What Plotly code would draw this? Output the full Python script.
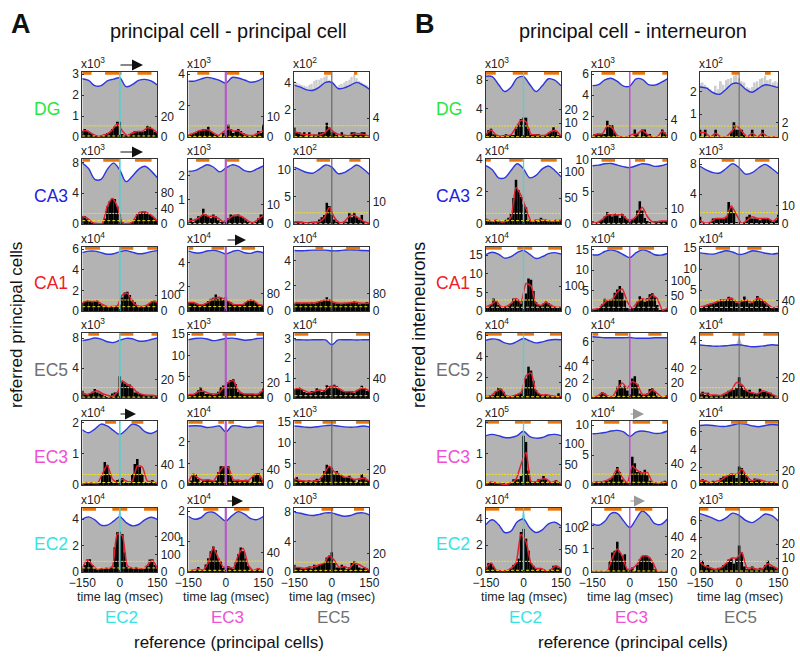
"""Cross-correlograms between hippocampal and entorhinal regions, panels A and B."""

import plotly.graph_objects as go

FONT = "Liberation Sans"

ROWS = ["DG", "CA3", "CA1", "EC5", "EC3", "EC2"]
COLS = ["EC2", "EC3", "EC5"]

# lags for each data family (msec)
BAR_LAGS = list(range(-150, 151, 10))
RED_LAGS = list(range(-150, 151, 20))
BLUE_LAGS = list(range(-150, 151, 25))
SPIKE_LAGS = [-12, 0, 12]

# ---- panel A: bars/red on the right axis, blue on the left axis, orange in msec
A_DG_EC2_BARS = [6,8,6,5,3, 1,1,1,2,3, 4,5,8,11,15, 15, 3,1,1,3, 4,6,5,6,5, 6,11,10,8,5, 4]
A_DG_EC2_RED = [6,6,3,1,1.5,3,7,13,6,1.5,4,5.5,5.5,9,8,4]
A_DG_EC2_BLUE = [2.78,2.7,2.45,2.45,2.68,2.76,2.82,2.4,2.5,2.7,2.75,2.68,2.48]
A_DG_EC2_ORANGE = [(-150,-113),(-59,7),(71,127)]
A_DG_EC3_BARS = [1,1,2,2,3, 3,4,4,5,3, 2,1,0.5,0,2, 3, 6,4,2,3, 4,3,2,1,1, 1,0.5,1,3,2, 6]
A_DG_EC3_RED = [1,1.7,3,3.5,3.5,2,0.8,2.5,4,3,3,1.5,0.8,0.8,2,3]
A_DG_EC3_BLUE = [3.55,3.55,3.68,3.79,3.72,3.6,3.42,3.78,3.75,3.62,3.48,3.55,3.75]
A_DG_EC3_ORANGE = [(-114,-66),(3,54),(137,150)]
A_DG_EC5_BARS = [2,1,1,0.5,1, 0,1,0,0.5,0.5, 1,1,1,3,2, 1, 1,0.5,0,1, 0.5,0,0,1,1, 0.5,0.5,1,1,0, 0]
A_DG_EC5_RED = [1.2,0.8,0.5,0.5,0.4,0.4,0.8,1.8,1.0,0.5,0.3,0.3,0.7,0.7,0.5,0.2]
A_DG_EC5_BLUE = [3.8,3.65,3.45,3.42,3.65,4.0,4.0,3.55,3.6,3.8,4.0,3.8,3.5]
A_DG_EC5_ORANGE = [(-31,-3),(89,102)]
A_DG_EC5_NOISE = [4.1,4.0,3.9,3.8,3.75, 3.7,3.8,3.9,4.1,4.2, 4.2,4.3,4.4,4.5,4.2, 4.1, 3.9,3.7,3.8,3.9, 4.0,4.1,4.2,4.4,4.6, 4.3,4.1,4.0,3.9,3.8, 3.7]

A_CA3_EC2_BARS = [20,20,12,6,2, 1,1,0,2,14, 45,58,66,64,45, 25, 3,1,1,1, 3,12,26,30,31, 32,28,25,20,15, 8]
A_CA3_EC2_RED = [20,15,4,1,2,45,65,45,3,1,5,25,31,29,20,8]
A_CA3_EC2_BLUE = [7.9,7.2,5.8,5.8,7.1,7.9,7.0,5.5,6.2,7.1,7.5,6.9,6.0]
A_CA3_EC2_ORANGE = [(-150,-119),(-66,-2),(61,127)]
A_CA3_EC3_BARS = [1,3,1,2,4, 4,8,5,4,3, 5,4,2,1,1, 2, 3,5,4,4, 5,4,3,2,1, 0.5,0.5,1,3,5, 5]
A_CA3_EC3_RED = [1.5,2,3,5,4,4,3,1.2,2.5,4.5,4.5,3.5,1.5,0.7,2.5,4.5]
A_CA3_EC3_BLUE = [2.17,2.2,2.32,2.44,2.35,2.15,2.3,2.44,2.38,2.2,2.16,2.27,2.4]
A_CA3_EC3_ORANGE = [(-119,-66),(3,54)]
A_CA3_EC5_BARS = [1,1,1,1,0.5, 0,0.5,1,1,1, 2,3,4,9.5,8, 4, 2,1,0.5,0, 1,1,5,3,5, 3,2,4,1,0.5, 0.3]
A_CA3_EC5_RED = [1,0.9,0.6,0.3,0.7,1,2.8,7.5,3,0.7,1,3.5,3.8,2.5,1,0.3]
A_CA3_EC5_BLUE = [10.5,10,9.5,9.4,10.1,10.9,10.5,9.3,9.5,10.2,10.9,10.2,9.2]
A_CA3_EC5_ORANGE = [(-61,-7),(70,115)]

A_CA1_EC2_BARS = [50,60,65,62,55, 60,65,45,35,30, 25,28,28,30,30, 40, 85,115,120,100, 70,55,35,30,28, 28,35,50,62,65, 55]
A_CA1_EC2_RED = [50,62,60,60,42,28,28,32,100,110,60,33,28,38,60,55]
A_CA1_EC2_BLUE = [5.65,5.8,5.8,5.65,5.5,5.55,5.75,5.85,5.7,5.55,5.6,5.75,5.85]
A_CA1_EC2_ORANGE = [(-139,-79),(-2,54),(110,150)]
A_CA1_EC3_BARS = [40,40,38,35,30, 28,28,35,45,55, 60,75,55,60,50, 62, 45,40,30,28, 30,28,30,38,48, 52,50,40,32,28, 25]
A_CA1_EC3_RED = [38,38,30,28,40,55,62,56,45,30,28,30,47,48,30,25]
A_CA1_EC3_BLUE = [5.0,4.85,4.85,5.0,5.05,4.95,4.75,4.95,5.05,4.85,4.8,4.95,4.85]
A_CA1_EC3_ORANGE = [(-150,-130),(-57,-7),(63,117)]
A_CA1_EC5_BARS = [35,40,38,35,38, 38,35,40,35,38, 42,45,50,65,55, 45, 40,35,38,32, 35,38,40,38,45, 42,32,35,38,42, 38]
A_CA1_EC5_RED = [36,37,38,37,38,44,52,50,40,36,37,38,42,38,36,38]
A_CA1_EC5_BLUE = [4.82,4.8,4.82,4.85,4.85,4.85,4.8,4.8,4.85,4.88,4.85,4.82,4.8]
A_CA1_EC5_ORANGE = [(-65,-34),(57,113)]

A_EC5_EC2_BARS = [8,4,3,5,7, 10,6,5,4,2, 1,2,5,6,6, 24, 18,16,14,15, 12,6,7,5,4, 3,3,2,3,3, 2]
A_EC5_EC2_RED = [6,4,6,8,5,3,2,6,19,15,12,6,4,3,3,2]
A_EC5_EC2_BLUE = [7.65,7.8,8.0,7.85,7.5,7.4,7.7,7.95,7.9,7.6,7.6,7.8,8.0]
A_EC5_EC2_ORANGE = [(-126,-83),(-2,54),(127,150)]
A_EC5_EC3_BARS = [4,5,4,6,10, 14,8,5,5,5, 4,5,8,14,16, 12, 20,23,24,18, 8,6,5,5,5, 5,5,4,5,8, 12]
A_EC5_EC3_RED = [4.5,4.5,8,9,6,5,6,13,20,22,10,5.5,5,5,5,10]
A_EC5_EC3_BLUE = [13.7,14,14.1,13.9,13.5,13.7,14,14.1,13.9,13.6,13.7,14,14.1]
A_EC5_EC3_ORANGE = [(-137,-90),(-13,41),(123,150)]
A_EC5_EC5_BARS = [18,20,22,16,12, 10,12,14,14,20, 15,12,16,26,24, 22, 27,24,18,14, 12,14,12,14,10, 14,18,25,20,14, 14]
A_EC5_EC5_RED = [18,20,15,11,13,17,14,23,24,19,13,13,12,18,20,14]
A_EC5_EC5_BLUE = [2.93,2.93,2.92,2.93,2.93,2.92,2.68,2.92,2.93,2.93,2.92,2.93,2.93]
A_EC5_EC5_ORANGE = [(-150,-94),(97,150)]

A_EC3_EC2_BARS = [2,3,4,4,4, 3,3,3,18,46, 40,22,6,3,10, 12, 14,6,3,4, 22,42,52,36,22, 6,3,4,10,5, 3]
A_EC3_EC2_RED = [2,4,4,3,22,40,12,5,12,7,8,38,36,8,7,3]
A_EC3_EC2_BLUE = [1.78,1.68,1.8,1.96,1.9,1.75,1.63,1.78,1.96,1.9,1.72,1.66,1.75]
A_EC3_EC2_ORANGE = [(-59,-15),(47,94)]
A_EC3_EC3_BARS = [8,12,30,28,16, 8,14,14,14,12, 10,12,34,50,50, 50, 50,25,12,12, 14,10,12,14,10, 8,22,30,32,20, 6]
A_EC3_EC3_RED = [9,28,18,12,14,11,30,48,46,14,12,11,12,24,30,7]
A_EC3_EC3_BLUE = [2.72,2.73,2.72,2.65,2.68,2.72,2.45,2.72,2.72,2.66,2.66,2.72,2.7]
A_EC3_EC3_ORANGE = [(-150,-93),(-30,-7),(10,33),(123,150)]
A_EC3_EC5_BARS = [8,10,6,6,5, 4,6,5,6,8, 5,10,18,26,24, 22, 14,18,14,12, 10,10,12,8,6, 4,7,14,10,6, 5]
A_EC3_EC5_RED = [8,6,5,5,5,7,15,24,17,14,10,10,7,8,9,5]
A_EC3_EC5_BLUE = [14,13.9,13.7,13.7,13.9,14.1,14.2,14,13.8,13.7,13.8,14,13.8]
A_EC3_EC5_ORANGE = [(-150,-121),(-37,17),(97,150)]

A_EC2_EC2_BARS = [22,40,70,72,40, 20,14,20,20,18, 22,22,30,140,225, 228, 215,110,30,22, 22,28,24,20,18, 20,35,70,72,40, 20]
A_EC2_EC2_RED = [22,68,40,14,20,22,30,215,205,35,22,24,18,38,68,20]
A_EC2_EC2_BLUE = [4.0,4.18,3.95,3.55,3.55,3.85,4.2,3.75,3.5,3.6,3.95,4.15,3.98]
A_EC2_EC2_ORANGE = [(-150,-95),(-30,30),(97,150)]
A_EC2_EC2_SPIKE = [3.6,4.85,3.6]
A_EC2_EC3_BARS = [2,2,4,4,10, 3,3,15,28,42, 52,44,28,22,8, 8, 12,8,6,20, 36,50,42,28,12, 5,3,6,8,3, 2]
A_EC2_EC3_RED = [2,4,6,4,20,50,28,10,10,8,34,48,14,3,7,2]
A_EC2_EC3_BLUE = [1.83,1.73,1.78,1.95,1.96,1.82,1.67,1.85,1.98,1.9,1.75,1.72,1.82]
A_EC2_EC3_ORANGE = [(-90,-30),(33,94)]
A_EC2_EC5_BARS = [8,5,5,4,4, 5,6,4,8,6, 8,9,10,16,18, 22, 10,5,5,8, 6,3,5,10,12, 8,5,4,5,4, 2]
A_EC2_EC5_RED = [5,5,4,5,6,8,10,18,13,5,6,4,10,8,5,2]
A_EC2_EC5_BLUE = [7.95,7.8,7.6,7.5,7.65,7.85,7.85,7.6,7.4,7.5,7.8,7.85,7.6]
A_EC2_EC5_ORANGE = [(-41,6),(89,129)]

# ---- panel B
B_DG_EC2_BARS = [2,5,6,2,1, 0.5,0.5,1,2,1, 1,1,6,9,13, 14, 14,6,1,1, 2,2,1,1,1, 3,4,7,4,1, 0.5]
B_DG_EC2_RED = [2,5,1.5,0.5,1,1.5,7,12,11,2,1.5,1,1.5,4,4.5,0.5]
B_DG_EC2_BLUE = [8.55,8.5,7.4,6.4,7.0,8.3,8.5,7.4,6.4,7.2,8.2,8.0,7.2]
B_DG_EC2_ORANGE = [(-150,-111),(-43,17),(82,142)]
B_DG_EC3_BARS = [0,0.7,0.7,0.7,0.7, 0.7,3.7,2.7,2.7,1, 0,0,0,0,0, 0, 0,1.7,0.7,0,1.7, 1.7,0.7,0.7,0,0, 0,0,1.7,1,0]
B_DG_EC3_RED = [0.2,0.7,0.7,2.5,2,0.3,0,0,0.6,0.7,1.5,0.6,0,0,1.3,0.2]
B_DG_EC3_BLUE = [4.9,5.0,5.45,5.6,5.3,4.85,4.85,5.55,5.5,5.0,4.95,5.2,5.55]
B_DG_EC3_ORANGE = [(-113,-59),(10,61),(130,150)]
B_DG_EC5_BARS = [1,0,1,0,0, 0,1,0,0,0, 0,0,0.7,2,1, 1, 1,0.3,0,0, 1,0,0,0,1, 0,0,0,0,0, 0]
B_DG_EC5_RED = [0.6,0.6,0,0.5,0,0,0.7,1.5,0.8,0,0.5,0,0.5,0,0,0]
B_DG_EC5_BLUE = [2.2,2.15,1.95,1.88,2.1,2.35,2.35,2.1,1.97,2.15,2.3,2.25,2.17]
B_DG_EC5_ORANGE = [(-29,-1),(99,121)]
B_DG_EC5_NOISE = [2.35,2.4,2.3,2.2,2.1, 2.0,2.25,2.1,2.45,2.3, 2.5,2.55,2.6,2.7,2.75, 2.6, 2.45,2.4,2.2,2.15, 2.2,2.4,2.45,2.55,2.6, 2.7,2.5,2.55,2.4,2.45, 2.4]

B_CA3_EC2_BARS = [10,8,4,3,8, 3,4,3,8,12, 20,50,85,65,52, 38, 32,8,5,4, 8,4,12,6,8, 6,5,4,8,5, 8]
B_CA3_EC2_RED = [9,5,7,4,5,13,70,55,30,6,7,8,7,5,6,7]
B_CA3_EC2_BLUE = [3.6,3.35,2.85,2.85,3.3,3.72,3.4,2.85,3.0,3.4,3.58,3.3,2.92]
B_CA3_EC2_ORANGE = [(-150,-131),(-57,-3),(69,133)]
B_CA3_EC3_BARS = [2,0,1,2,3, 5,8,6,5,7, 6,4,7,5,3, 2, 3,4,9,15, 9,4,2,1,0, 2,2,2,2,2, 2]
B_CA3_EC3_RED = [1,1,3,6,6,6,6,3,3,6,11,5,1.5,1.5,2,2]
B_CA3_EC3_BLUE = [9.1,9.2,9.4,9.45,9.2,8.95,8.8,9.1,9.4,9.3,9.0,9.1,9.4]
B_CA3_EC3_ORANGE = [(-113,-59),(21,61),(130,150)]
B_CA3_EC5_BARS = [4,0.5,0,0,1, 3,3,3,3,3, 4,12,9,6,1, 0, 0,1,4,5, 3,3,3,2,3, 3,3,2,1,2, 5]
B_CA3_EC5_RED = [2,0.4,1,3,3,3.5,10,5,0.3,2,4,3,3,3,1.5,4]
B_CA3_EC5_BLUE = [7.7,7.2,6.85,6.8,7.4,8.05,7.5,6.65,6.85,7.5,7.95,7.4,6.7]
B_CA3_EC5_ORANGE = [(-67,-18),(61,116)]

B_CA1_EC2_BARS = [18,18,25,50,40, 25,18,15,18,22, 30,50,50,45,30, 40, 70,130,125,80, 35,25,22,30,38, 32,25,18,15,12, 15]
B_CA1_EC2_RED = [17,25,40,18,18,30,50,35,110,100,30,22,35,22,15,15]
B_CA1_EC2_BLUE = [15.2,15.8,15.3,14.2,14.6,15.7,16.3,15.2,14.1,14.6,15.4,15.7,15.3]
B_CA1_EC2_ORANGE = [(-150,-87),(-25,35),(99,150)]
B_CA1_EC3_BARS = [5,6,8,12,22, 40,35,35,40,60, 70,82,60,35,10, 5, 12,15,30,48, 40,30,42,55,58, 45,20,3,3,5, 8]
B_CA1_EC3_RED = [5,7,20,35,38,62,72,30,10,28,40,35,52,40,3,8]
B_CA1_EC3_BLUE = [13.8,13.8,14.6,15,14.6,13.8,13.1,14.3,15,14.6,13.8,13.7,14.1]
B_CA1_EC3_ORANGE = [(-90,-29),(34,97)]
B_CA1_EC5_BARS = [15,18,20,25,28, 30,32,35,45,38, 42,55,50,40,32, 30, 40,56,40,30, 35,42,58,45,40, 30,22,15,12,12, 18]
B_CA1_EC5_RED = [15,20,27,33,42,44,50,35,38,42,33,50,42,25,13,17]
B_CA1_EC5_BLUE = [13.9,13.7,13.6,14,14.4,14.1,13.5,13.8,14.4,14.2,13.8,13.6,13.8]
B_CA1_EC5_ORANGE = [(-90,-35),(31,86)]

B_EC5_EC2_BARS = [2,2,3,4,9, 13,12,8,3,2, 2,3,4,5,6, 12, 25,40,35,22, 10,6,4,3,5, 3,3,2,2,6, 2]
B_EC5_EC2_RED = [2,3,8,11,3,2,4,7,28,32,9,4,4,3,2,2]
B_EC5_EC2_BLUE = [5.55,5.68,5.6,5.3,5.2,5.45,5.72,5.5,5.3,5.4,5.55,5.62,5.6]
B_EC5_EC2_ORANGE = [(-150,-87),(-25,42),(106,150)]
B_EC5_EC3_BARS = [1,2,2,4,8, 6,3,2,2,3, 15,24,14,16,10, 5, 26,29,18,6, 4,4,6,12,13, 9,3,1,1,2, 4]
B_EC5_EC3_RED = [1.5,2.5,7,3,2,12,20,13,22,18,5,5,11,6,1,3]
B_EC5_EC3_BLUE = [6.5,6.45,6.4,6.4,6.4,6.4,6.42,6.35,6.35,6.35,6.4,6.4,6.4]
B_EC5_EC3_ORANGE = [(-150,-126),(-59,-6),(74,127)]
B_EC5_EC5_BARS = [4,6,3,5,1, 3,3,3,1,3, 4,7,8,8,10, 20, 12,8,7,8, 5,4,4,9,6, 6,5,5,3,1, 1]
B_EC5_EC5_RED = [4,4.5,3,3,2.5,5,7.5,15,13,7,5,4,7,5.5,3,1]
B_EC5_EC5_BLUE = [3.7,3.66,3.62,3.62,3.65,3.7,3.72,3.65,3.58,3.6,3.65,3.72,3.68]
B_EC5_EC5_ORANGE = [(-150,-99),(-26,22),(93,150)]
B_EC5_EC5_SPIKE = [3.7,4.3,3.7]

B_EC3_EC2_BARS = [2,4,8,7,5, 4,3,3,1,3, 4,14,14,14,22, 120, 105,35,10,8, 8,14,14,22,14, 8,5,8,12,5, 3]
B_EC3_EC2_RED = [2,7,5,3,1.5,5,14,50,80,9,8,14,15,6,10,3]
B_EC3_EC2_BLUE = [1.58,1.62,1.58,1.52,1.52,1.58,1.72,1.55,1.5,1.52,1.6,1.62,1.58]
B_EC3_EC2_ORANGE = [(-150,-98),(-34,29),(97,150)]
B_EC3_EC3_BARS = [5,4,6,4,6, 8,8,10,15,22, 33,24,10,6,3, 2, 52,40,24,26, 22,28,18,8,3, 5,2,3,6,8, 5]
B_EC3_EC3_RED = [4,6,6,9,14,30,14,4,35,27,22,23,6,3,4,5]
B_EC3_EC3_BLUE = [8.55,8.6,8.75,9.0,9.1,8.85,8.1,8.8,9.0,8.85,8.6,8.65,9.0]
B_EC3_EC3_ORANGE = [(-103,-42),(11,81),(130,150)]
B_EC3_EC5_BARS = [6,8,6,4,3, 6,5,4,10,12, 12,14,16,14,10, 26, 24,16,12,6, 6,9,8,7,4, 3,4,5,4,3, 3]
B_EC3_EC5_RED = [6,6,3,5,7,12,15,15,22,12,6,8,6,4,4,3]
B_EC3_EC5_BLUE = [6.7,6.75,6.7,6.6,6.6,6.75,6.9,6.85,6.65,6.55,6.7,6.8,6.75]
B_EC3_EC5_ORANGE = [(-31,31),(99,150)]

B_EC2_EC2_BARS = [8,20,20,12,5, 4,3,3,3,5, 8,16,20,30,90, 97, 75,48,20,14, 8,5,8,5,3, 3,6,14,14,10, 8]
B_EC2_EC2_RED = [8,20,5,3,3,8,20,85,68,20,8,8,3,6,14,8]
B_EC2_EC2_BLUE = [3.55,3.9,3.55,2.95,3.05,3.75,3.95,3.3,2.95,3.15,3.6,3.72,3.45]
B_EC2_EC2_ORANGE = [(-150,-97),(-34,29),(97,150)]
B_EC2_EC2_SPIKE = [3.4,4.78,3.4]
B_EC2_EC3_BARS = [0.5,0.5,0.5,0.5,0.5, 0.5,1,12,22,24, 34,22,18,20,3, 2, 5,1,8,14, 18,19,18,16,10, 3,0.5,0.5,0.5,0.5, 0.5]
B_EC2_EC3_RED = [0.5,0.5,0.5,0.8,16,26,18,3,4,9,18,18,12,1,0.5,0.5]
B_EC2_EC3_BLUE = [2.1,2.03,2.2,2.55,2.55,2.22,1.93,2.3,2.65,2.45,2.1,2.07,2.3]
B_EC2_EC3_ORANGE = [(-102,-33),(21,90)]
B_EC2_EC5_BARS = [8,8,4,5,3, 2,2,3,3,5, 6,9,10,6,10, 19, 14,4,2,2, 4,2,1,3,2, 5,8,4,4,3, 2]
B_EC2_EC5_RED = [7,4,3,2,3,6,10,10,14,3,3,2,2.5,6,4,2]
B_EC2_EC5_BLUE = [6.8,6.55,6.25,5.95,6.3,6.85,6.6,6.0,5.75,6.2,6.75,6.55,5.95]
B_EC2_EC5_ORANGE = [(-150,-118),(-54,1),(80,131)]

# ---- axis tables, one row per referred region, one column per reference region
A_YMAX = [[3.1,4.13,4.76],[8.44,2.68,12.0],[6.2,5.33,5.1],[8.67,15.3,3.27],[2.06,2.95,15.2],[4.85,2.1,8.5]]
A_EXP = [[3,3,2],[3,3,2],[4,4,4],[3,3,4],[4,4,3],[4,4,3]]
A_LEFT_TICKS = [[[0,1,2,3],[0,2,4],[0,2,4]],[[0,4,8],[0,1,2],[0,5,10]],[[0,2,4,6],[0,2,4],[0,2,4]],
                [[0,4,8],[0,5,10,15],[0,1,2,3]],[[0,1,2],[0,1,2],[0,5,10,15]],[[0,2,4],[0,1,2],[0,4,8]]]
A_RMAX = [[64,32,13.8],[166,34,29],[400,290,300],[72,83,132],[128,170,82],[362,130,71]]
A_RIGHT_TICKS = [[[0,20],[0,10],[0,4]],[[0,40,80],[0,10],[0,10]],[[0,100],[0,80],[0,80]],
                 [[0,20],[0,20],[0,40]],[[0,40],[0,40],[0,20]],[[0,100,200],[0,40],[0,20]]]
A_HI = [[11,5.5,2.4],[27,5.6,5],[69,50,52],[11.5,13,21],[21,28,13.7],[60,22,11]]
A_LO = [[1,0.3,0.05],[8.5,0.3,0.1],[27,20,20],[1,1.6,4.7],[5,7,3.4],[23,3.4,1.8]]

B_YMAX = [[9.15,6.2,2.86],[4.01,10.15,8.67],[17.2,15.7,15.3],[6.25,6.9,4.54],[2.05,10.67,7.2],[4.78,2.78,7.45]]
B_EXP = [[3,3,2],[4,3,3],[4,4,4],[4,4,4],[5,4,4],[4,4,3]]
B_LEFT_TICKS = [[[0,4,8],[0,2,4,6],[0,1,2]],[[0,2,4],[0,5,10],[0,4,8]],[[0,5,10,15],[0,5,10,15],[0,5,10,15]],
                [[0,2,4,6],[0,2,4,6],[0,2,4]],[[0,1,2],[0,5,10],[0,2,4,6]],[[0,2,4],[0,1,2],[0,2,4,6]]]
B_RMAX = [[47,14.7,8.85],[125,43,35.5],[256,209,248],[83,87,63],[156,118,90],[144,72,46]]
B_RIGHT_TICKS = [[[0,10,20],[0,4],[0,2]],[[0,50,100],[0,10],[0,10]],[[0,100],[0,50,100],[0,40]],
                 [[0,20,40],[0,20,40],[0,20]],[[0,50,100],[0,40],[0,20]],[[0,50,100],[0,20,40],[0,10,20]]]
B_HI = [[8,2.5,1.5],[20.5,7,6.2],[44,36,42],[13,13.7,10],[26,20,15],[24,12,7.6]]
B_LO = [[0.2,0.05,0.02],[6.4,0.4,0.2],[15,12,14],[1.6,2.2,0.8],[6.5,5,3.7],[3.8,1.2,0.7]]

TABLES = {
    "A": (A_YMAX, A_EXP, A_LEFT_TICKS, A_RMAX, A_RIGHT_TICKS, A_HI, A_LO),
    "B": (B_YMAX, B_EXP, B_LEFT_TICKS, B_RMAX, B_RIGHT_TICKS, B_HI, B_LO),
}

# page layout, in pixels
WIDTH, HEIGHT = 800, 659
ROW_PX = [(72, 137), (159, 224), (247, 311), (333, 398), (421, 485), (508, 572)]
COL_PX = {
    "A": [(82.3, 157.3), (188.3, 263.3), (294.3, 369.3)],
    "B": [(486, 561), (592.3, 667.3), (700, 778.3)],
}

REGION_COLORS = {
    "DG": "#28e63c", "CA3": "#1f22e0", "CA1": "#f01c24",
    "EC5": "#707070", "EC3": "#f050d4", "EC2": "#34e4e4",
}
VLINE = {
    "A": [("#45d6d6", 1.6), ("#b45cc4", 2.2), ("#666666", 1.2)],
    "B": [("#45d6d6", 1.3), ("#c040cc", 1.3), ("#666666", 1.0)],
}
SPIKE_COLORS = ["#7fdede", "#d080d8", "#c4c4c4"]
GREY, BLUE, RED = "#b3b3b3", "#2b36dc", "#e3202b"
ORANGE, YELLOW = "#e8760f", "#f2e21e"

# arrows above some panels: group, row, col, pixel start, pixel end, colour
ARROWS = [
    ("A", 0, 0, 119, 143, "#111111"), ("A", 1, 0, 119, 143, "#111111"),
    ("A", 2, 1, 226, 246, "#111111"), ("A", 4, 0, 119, 136, "#111111"),
    ("A", 5, 1, 226, 243, "#111111"),
    ("B", 4, 1, 629, 644, "#999999"), ("B", 5, 1, 629, 645, "#999999"),
]


def px(x):
    return x / WIDTH


def py(y):
    return 1 - y / HEIGHT


def label(x, y, text, size, color="#111111", **kwargs):
    return dict(
        x=px(x), y=py(y), xref="paper", yref="paper", text=text, showarrow=False,
        font=dict(family=FONT, size=size, color=color),
        xanchor=kwargs.pop("xanchor", "center"), yanchor="middle", **kwargs,
    )


def axis_name(prefix, index):
    return prefix if index == 1 else f"{prefix}{index}"


fig = go.Figure()
layout = {}
annotations = []
panel = 0

for group in ("A", "B"):
    ymaxes, exps, left_ticks, rmaxes, right_ticks, his, los = TABLES[group]
    for r, row in enumerate(ROWS):
        y0, y1 = ROW_PX[r]
        for c, col in enumerate(COLS):
            panel += 1
            x0, x1 = COL_PX[group][c]
            x_id = axis_name("x", panel)
            left_id = axis_name("y", 2 * panel - 1)
            right_id = axis_name("y", 2 * panel)
            prefix = f"{group}_{row}_{col}"
            ymax, rmax = ymaxes[r][c], rmaxes[r][c]
            common = dict(xaxis=x_id, showlegend=False, hoverinfo="skip")

            # grey background counts and their smoothed envelope
            noise = globals().get(f"{prefix}_NOISE")
            if noise:
                fig.add_trace(go.Bar(x=BAR_LAGS, y=noise, width=7, yaxis=left_id,
                                     marker=dict(color="#cdcdcd", line_width=0), **common))
            spike = globals().get(f"{prefix}_SPIKE")
            if spike:
                fig.add_trace(go.Scatter(x=SPIKE_LAGS, y=spike, yaxis=left_id, mode="lines",
                                         line=dict(width=0), fill="toself",
                                         fillcolor=SPIKE_COLORS[c], **common))
            fig.add_trace(go.Scatter(
                x=BLUE_LAGS, y=globals()[f"{prefix}_BLUE"], yaxis=left_id, mode="lines",
                line=dict(color=BLUE, width=1.4, shape="spline"),
                fill="tozeroy", fillcolor=GREY, **common))

            # orange significance strip along the top edge
            strip_x, strip_y = [], []
            for start, stop in globals()[f"{prefix}_ORANGE"]:
                strip_x += [start, stop, None]
                strip_y += [ymax * 0.98, ymax * 0.98, None]
            fig.add_trace(go.Scatter(x=strip_x, y=strip_y, yaxis=left_id, mode="lines",
                                     line=dict(color=ORANGE, width=2.8), **common))

            # foreground histogram on the right axis
            fig.add_trace(go.Bar(x=BAR_LAGS, y=globals()[f"{prefix}_BARS"], width=10, yaxis=right_id,
                                 marker=dict(color="#000000", line_width=0), **common))
            fig.add_trace(go.Scatter(x=RED_LAGS, y=globals()[f"{prefix}_RED"], yaxis=right_id, mode="lines",
                                     line=dict(color=RED, width=1.5, shape="spline", smoothing=0.6), **common))
            for level, dash in ((his[r][c], "2px,1px"), (los[r][c], "3px,2px")):
                fig.add_trace(go.Scatter(x=[-150, 150], y=[level, level], yaxis=right_id, mode="lines",
                                         line=dict(color=YELLOW, width=1, dash=dash), **common))
            v_color, v_width = VLINE[group][c]
            fig.add_trace(go.Scatter(x=[0, 0], y=[0, rmax], yaxis=right_id, mode="lines",
                                     line=dict(color=v_color, width=v_width), **common))

            tick_style = dict(ticks="inside", ticklen=2, tickwidth=0.8, tickcolor="#333333",
                              tickfont=dict(family=FONT, size=12, color="#222222"), automargin=False)
            layout[x_id.replace("x", "xaxis", 1)] = dict(
                domain=[px(x0), px(x1)], range=[-150, 150], anchor=left_id,
                tickvals=[-150, 0, 150], ticktext=["\u2212150", "0", "150"],
                showticklabels=r == 5, mirror=True, showline=True, linecolor="#333333",
                linewidth=1, showgrid=False, zeroline=False, **tick_style,
            )
            layout[left_id.replace("y", "yaxis", 1)] = dict(
                domain=[py(y1), py(y0)], range=[0, ymax], anchor=x_id,
                tickvals=left_ticks[r][c], showline=True, linecolor="#333333", linewidth=1,
                showgrid=False, zeroline=False, **tick_style,
            )
            layout[right_id.replace("y", "yaxis", 1)] = dict(
                domain=[py(y1), py(y0)], range=[0, rmax], anchor=x_id, side="right",
                overlaying=left_id, tickvals=right_ticks[r][c], showline=True,
                linecolor="#333333", linewidth=1, showgrid=False, zeroline=False, **tick_style,
            )
            annotations.append(label(x0 - 3, y0 - 9, f"x10<sup>{exps[r][c]}</sup>", 12,
                                     color="#222222", xanchor="left"))
            if r == 5:
                annotations.append(label((x0 + x1) / 2 + 0.5, 597, "time lag (msec)", 12.6, color="#222222"))
                annotations.append(label((x0 + x1) / 2 + 1.5, 617.5, col, 17, color=REGION_COLORS[col]))

for group, r, c, start, stop, color in ARROWS:
    annotations.append(dict(
        x=px(stop), y=py(ROW_PX[r][0] - 7), xref="paper", yref="paper", text="",
        showarrow=True, ax=start - stop, ay=0, arrowhead=2, arrowsize=2.2,
        arrowwidth=1, arrowcolor=color,
    ))

# region names on the left of each block
for r, row in enumerate(ROWS):
    y_mid = sum(ROW_PX[r]) / 2 + 4
    annotations.append(label(32, y_mid, row, 17.5, color=REGION_COLORS[row], xanchor="left"))
    annotations.append(label(434, y_mid, row, 17.5, color=REGION_COLORS[row], xanchor="left"))

annotations += [
    label(21, 24, "<b>A</b>", 27),
    label(425, 24, "<b>B</b>", 27),
    label(228.5, 31, "principal cell - principal cell", 19.9),
    label(633, 31, "principal cell - interneuron", 19.9),
    label(228.5, 642, "reference (principal cells)", 17),
    label(632.5, 642, "reference (principal cells)", 17),
    label(16, 325, "referred principal cells", 17, textangle=-90),
    label(419, 325, "referred interneurons", 17.8, textangle=-90),
]

fig.update_layout(
    template="none", width=WIDTH, height=HEIGHT, margin=dict(l=0, r=0, t=0, b=0), autosize=False,
    paper_bgcolor="white", plot_bgcolor="white", showlegend=False, barmode="overlay",
    font=dict(family=FONT), annotations=annotations, **layout,
)

fig.write_html("out.html", config={"displayModeBar": False},
               post_script="document.body.style.margin='0';")
